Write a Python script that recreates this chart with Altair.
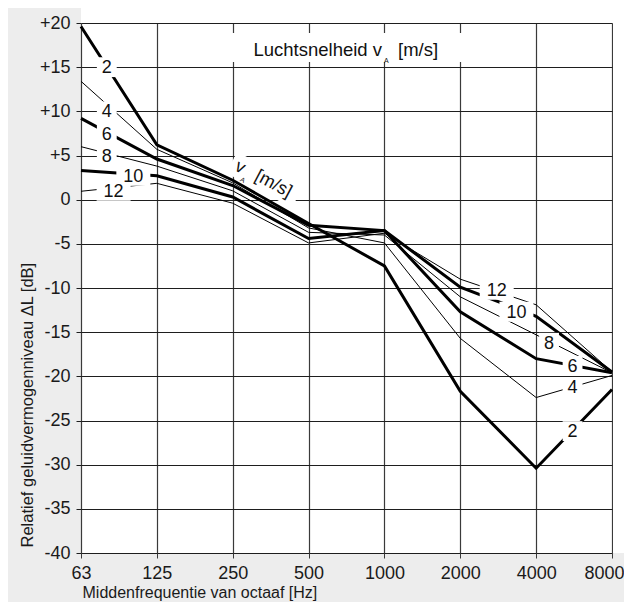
import json
import altair as alt
import pandas as pd

# ---- data ----
freqs = ["63", "125", "250", "500", "1000", "2000", "4000", "8000"]
speeds = [2, 4, 6, 8, 10, 12]
thick_speeds = [2, 6, 10]

v2 = [19.6, 6.2, 2.2, -2.7, -7.5, -21.7, -30.4, -21.5]
v4 = [13.4, 5.7, 1.9, -3.2, -4.9, -15.7, -22.4, -19.9]
v6 = [9.2, 4.6, 1.6, -2.9, -3.5, -12.7, -18.0, -19.6]
v8 = [6.0, 3.8, 1.0, -3.7, -4.0, -11.0, -15.3, -19.6]
v10 = [3.3, 2.7, 0.3, -4.4, -3.5, -9.9, -13.2, -19.5]
v12 = [0.95, 1.85, -0.4, -4.9, -3.8, -9.0, -11.9, -19.5]
series = [v2, v4, v6, v8, v10, v12]

y_ticks = [-40, -37.5, -35, -32.5, -30, -27.5, -25, -22.5, -20, -17.5, -15,
           -12.5, -10, -7.5, -5, -2.5, 0, 2.5, 5, 7.5, 10, 12.5, 15, 17.5, 20]

# line labels (octave index position, dB position)
label_text = ["2", "4", "6", "8", "10", "12", "12", "10", "8", "6", "4", "2"]
label_i = [0.34, 0.34, 0.34, 0.34, 0.69, 0.43, 5.48, 5.74, 6.17, 6.48, 6.48, 6.48]
label_dl = [15.0, 10.0, 7.4, 4.9, 2.7, 1.0, -10.2, -12.7, -16.2, -18.8, -21.2, -26.2]

FONT = "Liberation Sans"
W, H = 531, 530
PAD_R, PAD_B = 12, 49

rows = []
for sp, vals in zip(speeds, series):
    for i, val in enumerate(vals):
        rows.append({"i": i, "dl": val, "v": sp, "w": 3.0 if sp in thick_speeds else 1.0})
df = pd.DataFrame(rows)

lab = pd.DataFrame({"i": label_i, "dl": label_dl, "t": label_text})
lab["wide"] = lab["t"].str.len() > 1

xs = alt.Scale(domain=[0, 7], nice=False, zero=False)
ys = alt.Scale(domain=[-40, 20], nice=False, zero=False)

last = len(freqs) - 1
x_axis = alt.Axis(
    values=list(range(len(freqs))),
    labelExpr=json.dumps(freqs).replace('"', "'") + "[datum.value]",
    grid=True, gridColor="#3a3a3a", gridWidth=1.2,
    domain=False, ticks=True, tickSize=5, tickColor="#3a3a3a",
    labelFont=FONT, labelFontSize=18, labelColor="#1a1a1a", labelPadding=6,
    labelOverlap=False, labelFlush=False,
    labelAlign={"condition": {"test": f"datum.value == {last}", "value": "right"}, "value": "center"},
    labelOffset={"condition": {"test": f"datum.value == {last}", "value": PAD_R}, "value": 0},
    title="Middenfrequentie van octaaf [Hz]", titleFont=FONT, titleFontSize=16,
    titleFontWeight="normal", titleColor="#1a1a1a",
    titleX=1, titleY=44, titleAlign="left", titleBaseline="alphabetic", titleAngle=0,
)

y_axis = alt.Axis(
    values=y_ticks,
    labelExpr="datum.value % 5 != 0 ? '' : (datum.value > 0 ? '+' + datum.value : '' + datum.value)",
    grid=True,
    gridColor={"condition": {"test": "datum.value % 5 == 0", "value": "#1e1e1e"}, "value": "#4a4a4a"},
    gridWidth=1.2,
    domain=False, ticks=True, tickSize=5,
    tickOpacity={"condition": {"test": "datum.value % 5 != 0", "value": 0}, "value": 1},
    tickColor="#1e1e1e",
    labelFont=FONT, labelFontSize=18, labelColor="#1a1a1a", labelPadding=6,
    labelOverlap=False, labelFlush=False,
    title="Relatief geluidvermogenniveau ΔL [dB]", titleFont=FONT, titleFontSize=16.5,
    titleFontWeight="normal", titleColor="#1a1a1a",
    titleAngle=-90, titleAlign="left", titleBaseline="middle", titleX=-54, titleY=H - 6,
)

one = alt.Data(values=[{}])

# white strips above and right of plot (the grey only frames left and bottom)
strip_top = alt.Chart(one).mark_rect(color="white").encode(
    x=alt.value(0), x2=alt.value(W + PAD_R), y=alt.value(-15), y2=alt.value(0))
strip_right = alt.Chart(one).mark_rect(color="white").encode(
    x=alt.value(W + 1), x2=alt.value(W + PAD_R), y=alt.value(-15), y2=alt.value(H))

base = alt.Chart(df).encode(
    x=alt.X("i:Q", scale=xs, axis=x_axis),
    y=alt.Y("dl:Q", scale=ys, axis=y_axis),
)

title_box = alt.Chart(alt.Data(values=[{"a": 1.569, "b": 5.47, "c": 18.87, "d": 15.58}])).mark_rect(
    color="white").encode(
    x=alt.X("a:Q", scale=xs), x2="b:Q", y=alt.Y("c:Q", scale=ys), y2="d:Q")

rot_box = alt.Chart(alt.Data(values=[{"i": 2.42, "dl": 2.25}])).mark_point(
    shape="M-3.1,-1H3.1V1H-3.1Z", filled=True, color="white", opacity=1, size=576, angle=28,
    strokeWidth=0).encode(x=alt.X("i:Q", scale=xs), y=alt.Y("dl:Q", scale=ys))

lines = base.mark_line(color="black", strokeJoin="miter").encode(
    detail="v:N", strokeWidth=alt.StrokeWidth("w:Q", scale=None))

box_small = alt.Chart(lab).transform_filter("!datum.wide").mark_point(
    shape="M-0.55,-0.55H0.55V0.55H-0.55Z", filled=True, color="white", opacity=1,
    size=1300, strokeWidth=0).encode(x=alt.X("i:Q", scale=xs), y=alt.Y("dl:Q", scale=ys))
box_wide = alt.Chart(lab).transform_filter("datum.wide").mark_point(
    shape="M-0.85,-0.5H0.85V0.5H-0.85Z", filled=True, color="white", opacity=1,
    size=1600, strokeWidth=0).encode(x=alt.X("i:Q", scale=xs), y=alt.Y("dl:Q", scale=ys))

labels = alt.Chart(lab).mark_text(font=FONT, fontSize=18, color="#111", baseline="middle",
                                  align="center", dy=1).encode(
    x=alt.X("i:Q", scale=xs), y=alt.Y("dl:Q", scale=ys), text="t:N")

txt = pd.DataFrame({
    "i": [3.968, 3.994, 4.179],
    "dl": [16.26, 15.44, 16.26],
    "t": ["Luchtsnelheid v", "A", "[m/s]"],
})
t1 = alt.Chart(txt).transform_filter("datum.t == 'Luchtsnelheid v'").mark_text(
    font=FONT, fontSize=18.5, color="#111", align="right", baseline="alphabetic").encode(
    x=alt.X("i:Q", scale=xs), y=alt.Y("dl:Q", scale=ys), text="t:N")
t2 = alt.Chart(txt).transform_filter("datum.t == 'A'").mark_text(
    font=FONT, fontSize=7, color="#111", align="left", baseline="alphabetic").encode(
    x=alt.X("i:Q", scale=xs), y=alt.Y("dl:Q", scale=ys), text="t:N")
t3 = alt.Chart(txt).transform_filter("datum.t == '[m/s]'").mark_text(
    font=FONT, fontSize=18.5, color="#111", align="left", baseline="alphabetic").encode(
    x=alt.X("i:Q", scale=xs), y=alt.Y("dl:Q", scale=ys), text="t:N")

rtxt = pd.DataFrame({
    "i": [2.096, 2.129, 2.535],
    "dl": [3.65, 2.2, 1.75],
    "t": ["v", "A", "[m/s]"],
})
r1 = alt.Chart(rtxt).transform_filter("datum.t != 'A'").mark_text(
    font=FONT, fontSize=18, color="#111", align="center", baseline="middle", angle=28).encode(
    x=alt.X("i:Q", scale=xs), y=alt.Y("dl:Q", scale=ys), text="t:N")
r2 = alt.Chart(rtxt).transform_filter("datum.t == 'A'").mark_text(
    font=FONT, fontSize=7, color="#111", align="center", baseline="middle", angle=28).encode(
    x=alt.X("i:Q", scale=xs), y=alt.Y("dl:Q", scale=ys), text="t:N")

chart = alt.layer(
    strip_top, strip_right, title_box, rot_box, lines, box_small, box_wide, labels,
    t1, t2, t3, r1, r2,
).properties(
    width=W, height=H,
    autosize=alt.AutoSizeParams(type="none"),
    padding={"left": 73, "top": 15, "right": PAD_R, "bottom": PAD_B},
    background="#ededed",
).configure_view(fill="white", stroke=None)

chart.save("out.html", embed_options={"renderer": "svg", "actions": False})
